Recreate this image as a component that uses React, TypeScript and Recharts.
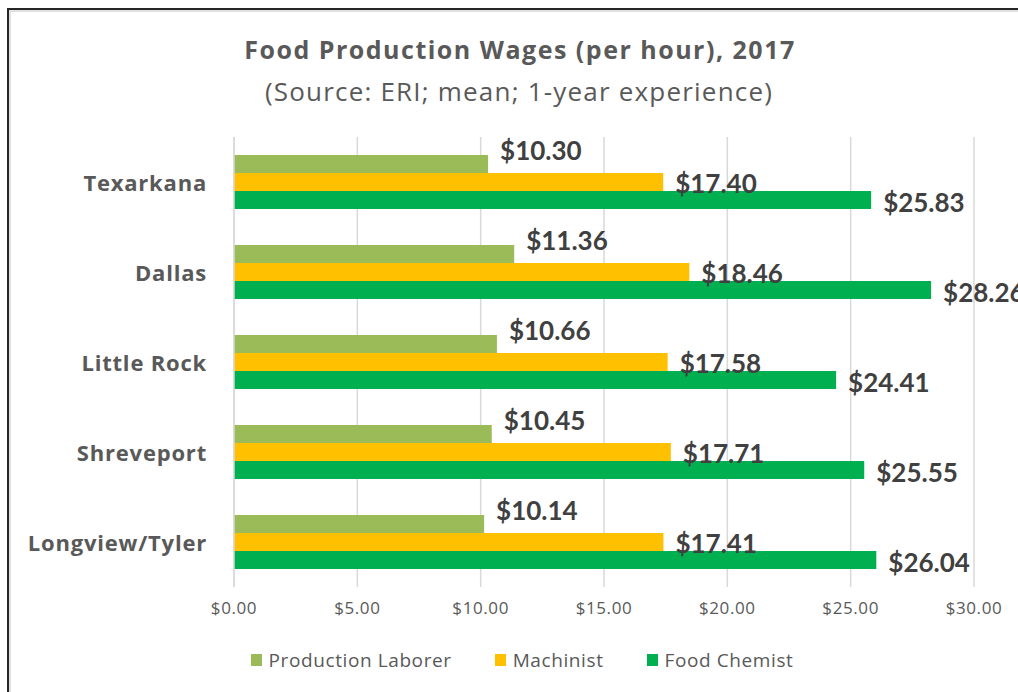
import { BarChart, Bar, XAxis, YAxis, CartesianGrid, LabelList } from 'recharts';

const cities = ['Texarkana', 'Dallas', 'Little Rock', 'Shreveport', 'Longview/Tyler'];
const laborer = [10.3, 11.36, 10.66, 10.45, 10.14];
const machinist = [17.4, 18.46, 17.58, 17.71, 17.41];
const chemist = [25.83, 28.26, 24.41, 25.55, 26.04];
const xTicks = [0, 5, 10, 15, 20, 25, 30];

const series = [
  { key: 'laborer', name: 'Production Laborer', color: '#9BBB59', dy: -14 },
  { key: 'machinist', name: 'Machinist', color: '#FFC000', dy: 1 },
  { key: 'chemist', name: 'Food Chemist', color: '#00B050', dy: 2 },
];

const data = cities.map((city, i) => ({
  city,
  laborer: laborer[i],
  machinist: machinist[i],
  chemist: chemist[i],
}));

const FONT = 'Lato, Calibri, sans-serif';
const WIDE = '"Open Sans", Lato, sans-serif';
const money = (v: number) => `$${v.toFixed(2)}`;

function makeLabel(dy: number) {
  return (props: any) => {
    const { x, y, width, height, value } = props;
    return (
      <text
        x={x + width + 12}
        y={y + height / 2 + dy}
        dominantBaseline="central"
        fontFamily={FONT}
        fontWeight={700}
        fontSize={26}
        fill="#404040"
      >
        {money(value)}
      </text>
    );
  };
}

function CityTick(props: any) {
  const { x, y, payload } = props;
  return (
    <text
      x={x}
      y={y}
      textAnchor="end"
      dominantBaseline="central"
      fontFamily={WIDE}
      fontWeight={700}
      fontSize={22}
      letterSpacing={0.8}
      fill="#595959"
    >
      {payload.value}
    </text>
  );
}

export default function App() {
  return (
    <div
      style={{
        position: 'absolute',
        left: 0,
        top: 0,
        width: 1018,
        height: 692,
        overflow: 'hidden',
        background: '#fff',
        fontFamily: WIDE,
      }}
    >
      <div
        style={{
          position: 'absolute',
          left: 7,
          top: 8,
          width: 1100,
          height: 800,
          borderLeft: '2px solid #262626',
          borderTop: '2px solid #262626',
          boxShadow: 'inset 2px 2px 0 #e0e0e0',
        }}
      />
      <div
        style={{
          position: 'absolute',
          left: 0,
          width: 1040,
          top: 31,
          textAlign: 'center',
          fontSize: 25,
          fontWeight: 700,
          letterSpacing: 1.5,
          color: '#595959',
          lineHeight: '36px',
        }}
      >
        Food Production Wages (per hour), 2017
      </div>
      <div
        style={{
          position: 'absolute',
          left: 0,
          width: 1038,
          top: 73,
          textAlign: 'center',
          fontSize: 26,
          letterSpacing: 1.2,
          color: '#595959',
          lineHeight: '36px',
        }}
      >
        (Source: ERI; mean; 1-year experience)
      </div>
      <div style={{ position: 'absolute', left: 0, top: 0 }}>
        <BarChart
          width={1060}
          height={692}
          data={data}
          layout="vertical"
          margin={{ top: 137, right: 86, bottom: 65, left: 0 }}
          barCategoryGap="20%"
          barGap={0}
        >
          <CartesianGrid horizontal={false} stroke="#d9d9d9" strokeWidth={1.5} />
          <XAxis
            type="number"
            domain={[0, 30]}
            ticks={xTicks}
            tickFormatter={money}
            axisLine={false}
            tickLine={false}
            tickSize={0}
            tickMargin={15}
            height={40}
            tick={{ fontFamily: WIDE, fontSize: 17, fill: '#595959', letterSpacing: 0.6 }}
          />
          <YAxis
            type="category"
            dataKey="city"
            width={234}
            axisLine={{ stroke: '#d9d9d9', strokeWidth: 1.5 }}
            tickLine={false}
            tickSize={0}
            tickMargin={27}
            tick={<CityTick />}
          />
          {series.map((s) => (
            <Bar key={s.key} dataKey={s.key} name={s.name} fill={s.color} isAnimationActive={false}>
              <LabelList dataKey={s.key} content={makeLabel(s.dy)} />
            </Bar>
          ))}
        </BarChart>
      </div>
      <div
        style={{
          position: 'absolute',
          left: 0,
          width: 1044,
          top: 647,
          display: 'flex',
          justifyContent: 'center',
          gap: 43,
          fontSize: 19,
          letterSpacing: 0.6,
          color: '#595959',
          lineHeight: '26px',
        }}
      >
        {series.map((s) => (
          <div key={s.key} style={{ display: 'flex', alignItems: 'center', gap: 7 }}>
            <div style={{ width: 11, height: 12, background: s.color }} />
            <span>{s.name}</span>
          </div>
        ))}
      </div>
    </div>
  );
}
